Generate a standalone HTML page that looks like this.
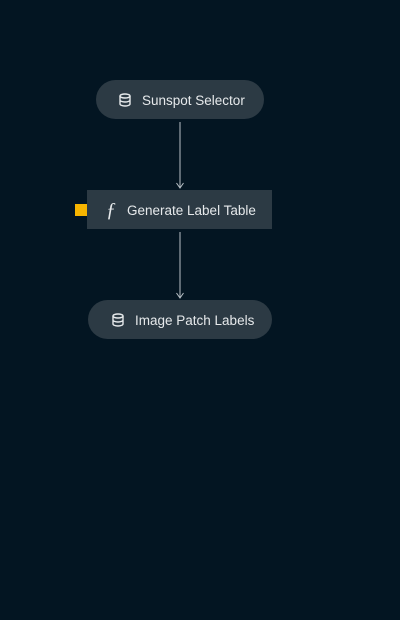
<!DOCTYPE html>
<html><head><style>
body{margin:0;width:400px;height:620px;background:#031522;overflow:hidden;font-family:"Liberation Sans",sans-serif;}
.n{position:absolute;background:#2c3a44;color:#e6e9eb;font-size:13.5px;display:flex;align-items:center;box-sizing:border-box;height:39px;padding-top:1px;}
</style></head><body>
<div class="n" style="left:96px;top:80px;width:168px;border-radius:20px;padding-left:46px">Sunspot Selector</div>
<div class="n" style="left:87px;top:190px;width:185px;padding-left:19px"><span style="font-family:'Liberation Serif',serif;font-style:italic;font-size:20px;margin-right:11px">ƒ</span>Generate Label Table</div>
<div class="n" style="left:88px;top:300px;width:184px;border-radius:20px;padding-left:47px">Image Patch Labels</div>
<svg width="400" height="620" style="position:absolute;left:0;top:0;z-index:5">
<g stroke="#b8c0c6" stroke-width="1" fill="none">
<line x1="180" y1="122" x2="180" y2="188"/>
<polyline points="176.5,183 180,188 183.5,183"/>
<line x1="180" y1="232" x2="180" y2="298"/>
<polyline points="176.5,293 180,298 183.5,293"/>
</g>
<rect x="75" y="204" width="12" height="12" fill="#f7b500"/>
<g fill="none" stroke="#e6e9eb" stroke-width="1.4">
<ellipse cx="125" cy="96" rx="5" ry="2"/><path d="M120 96v8c0 1.1 2.2 2 5 2s5-.9 5-2v-8M120 100c0 1.1 2.2 2 5 2s5-.9 5-2"/>
<ellipse cx="118" cy="316" rx="5" ry="2"/><path d="M113 316v8c0 1.1 2.2 2 5 2s5-.9 5-2v-8M113 320c0 1.1 2.2 2 5 2s5-.9 5-2"/>
</g>
</svg>
</body></html>
